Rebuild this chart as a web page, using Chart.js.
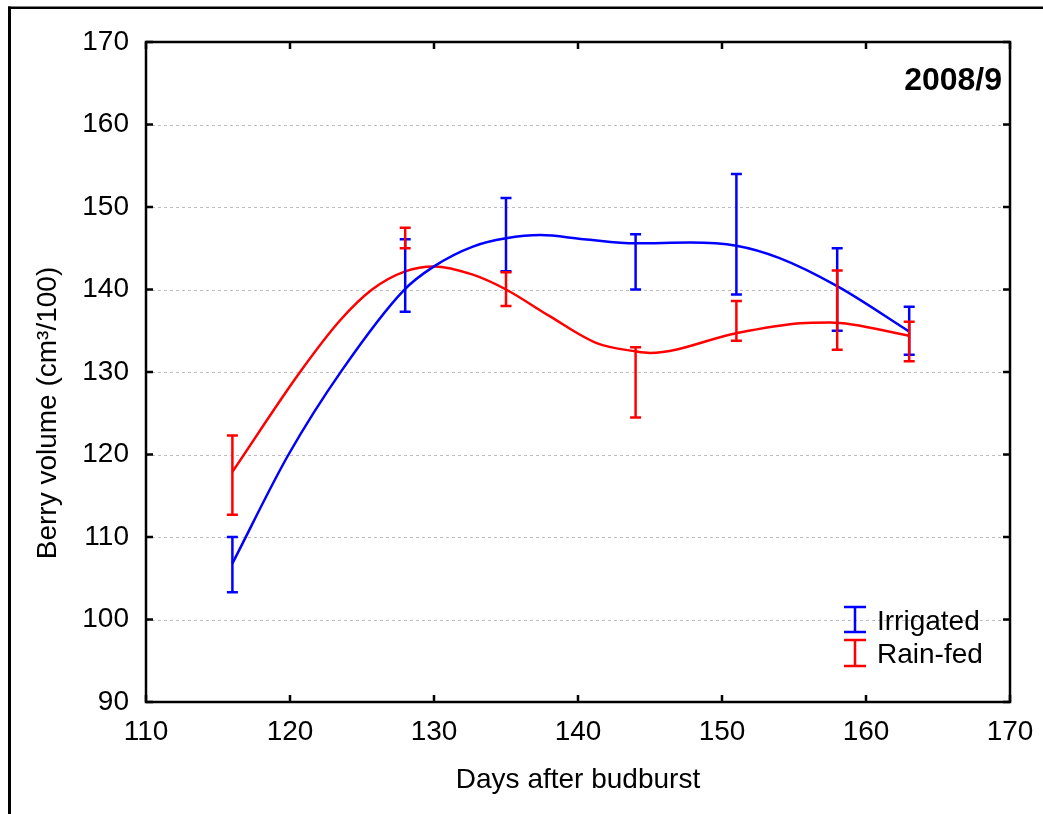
<!DOCTYPE html>
<html>
<head>
<meta charset="utf-8">
<script src="https://cdn.jsdelivr.net/npm/chart.js@4.4.0/dist/chart.umd.min.js"></script>
<style>
  html, body { margin: 0; padding: 0; background: #fff; }
  #wrap { position: relative; width: 1043px; height: 814px; }
</style>
</head>
<body>
<div id="wrap"><canvas id="c" width="1043" height="814"></canvas></div>
<script>
// Sampling days and berry volume means (cm3/100) with standard errors
const days = [116, 128, 135, 144, 151, 158, 163];
const irrigatedMean = [106.65, 141.7, 146.65, 143.35, 146.7, 140.0, 135.0];
const irrigatedErr  = [3.35, 4.4, 4.45, 3.35, 7.3, 5.0, 2.9];
const rainfedMean   = [117.5, 146.25, 140.05, 128.75, 136.2, 137.5, 133.7];
const rainfedErr    = [4.8, 1.25, 2.05, 4.25, 2.4, 4.8, 2.4];

// Smoothed trend curves through the season
const irrigatedCurveDays = [116, 119.9, 123.6, 127.9, 130, 132.7, 135, 137.4, 140.4, 144, 147.8, 151, 154, 158, 163];
const irrigatedCurve     = [106.8, 120, 130.2, 139.9, 142.8, 145.2, 146.2, 146.6, 146.1, 145.6, 145.7, 145.3, 143.8, 140.4, 134.9];
const rainfedCurveDays   = [116, 120.7, 123.5, 125.7, 128, 130, 132.7, 135, 138, 141.3, 144, 145, 151, 155.4, 157.5, 163];
const rainfedCurve       = [117.9, 130, 136.3, 140, 142.2, 142.8, 141.8, 140.0, 136.8, 133.5, 132.5, 132.3, 134.7, 135.9, 136.0, 134.4];

const xTicks = [110, 120, 130, 140, 150, 160, 170];
const yTicks = [90, 100, 110, 120, 130, 140, 150, 160, 170];

const seriesNames = ['Irrigated', 'Rain-fed'];
const seasonLabel = '2008/9';
const xTitle = 'Days after budburst';
const yTitle = 'Berry volume (cm\u00B3/100)';

const BLUE = '#0000ff';
const RED = '#ff0000';
const FONT = '"Liberation Sans", Arial, Helvetica, sans-serif';

const toPoints = (xs, ys) => xs.map((x, i) => ({ x: x, y: ys[i] }));

const decorPlugin = {
  id: 'decor',
  beforeDraw(chart) {
    const ctx = chart.ctx;
    ctx.save();
    ctx.fillStyle = '#fff';
    ctx.fillRect(0, 0, chart.width, chart.height);
    // outer figure frame (top and left edges)
    ctx.fillStyle = '#000';
    ctx.fillRect(8, 6.5, chart.width - 8, 2.5);
    ctx.fillRect(8, 6.5, 3, chart.height);
    ctx.restore();
  },
  beforeDatasetsDraw(chart) {
    const ctx = chart.ctx, a = chart.chartArea, y = chart.scales.y;
    ctx.save();
    ctx.strokeStyle = '#bdbdbd';
    ctx.lineWidth = 1;
    ctx.setLineDash([3, 3]);
    yTicks.forEach(v => {
      if (v === yTicks[0] || v === yTicks[yTicks.length - 1]) return;
      const py = Math.round(y.getPixelForValue(v)) + 0.5;
      ctx.beginPath();
      ctx.moveTo(a.left, py);
      ctx.lineTo(a.right, py);
      ctx.stroke();
    });
    ctx.restore();
  },
  afterDatasetsDraw(chart) {
    const ctx = chart.ctx, a = chart.chartArea;
    const xs = chart.scales.x, ys = chart.scales.y;
    ctx.save();

    // error bars (mean ± SE)
    const drawBars = (means, errs, color) => {
      ctx.strokeStyle = color;
      ctx.lineWidth = 2.5;
      days.forEach((d, i) => {
        const px = xs.getPixelForValue(d);
        const top = ys.getPixelForValue(means[i] + errs[i]);
        const bot = ys.getPixelForValue(means[i] - errs[i]);
        ctx.beginPath();
        ctx.moveTo(px, top); ctx.lineTo(px, bot);
        ctx.moveTo(px - 5.5, top); ctx.lineTo(px + 5.5, top);
        ctx.moveTo(px - 5.5, bot); ctx.lineTo(px + 5.5, bot);
        ctx.stroke();
      });
    };
    drawBars(irrigatedMean, irrigatedErr, BLUE);
    drawBars(rainfedMean, rainfedErr, RED);

    // plot frame
    ctx.strokeStyle = '#000';
    ctx.lineWidth = 2.5;
    ctx.strokeRect(a.left, a.top, a.right - a.left, a.bottom - a.top);

    // inward tick marks on all four sides
    const tl = 7;
    ctx.beginPath();
    xTicks.forEach(v => {
      const px = xs.getPixelForValue(v);
      ctx.moveTo(px, a.bottom); ctx.lineTo(px, a.bottom - tl);
      ctx.moveTo(px, a.top); ctx.lineTo(px, a.top + tl);
    });
    yTicks.forEach(v => {
      const py = ys.getPixelForValue(v);
      ctx.moveTo(a.left, py); ctx.lineTo(a.left + tl, py);
      ctx.moveTo(a.right, py); ctx.lineTo(a.right - tl, py);
    });
    ctx.stroke();

    // season label
    ctx.fillStyle = '#000';
    ctx.font = 'bold 32px ' + FONT;
    ctx.textAlign = 'right';
    ctx.textBaseline = 'alphabetic';
    ctx.fillText(seasonLabel, 1002, 90);

    // legend
    const legend = [
      { name: seriesNames[0], color: BLUE, top: 607, bot: 632, base: 630 },
      { name: seriesNames[1], color: RED, top: 640, bot: 666, base: 663 }
    ];
    legend.forEach(item => {
      ctx.strokeStyle = item.color;
      ctx.lineWidth = 2.5;
      ctx.beginPath();
      ctx.moveTo(855, item.top); ctx.lineTo(855, item.bot);
      ctx.moveTo(844, item.top); ctx.lineTo(866, item.top);
      ctx.moveTo(844, item.bot); ctx.lineTo(866, item.bot);
      ctx.stroke();
      ctx.fillStyle = '#000';
      ctx.font = '28px ' + FONT;
      ctx.textAlign = 'left';
      ctx.textBaseline = 'alphabetic';
      ctx.fillText(item.name, 877, item.base);
    });

    // y axis title
    ctx.translate(56, 413);
    ctx.rotate(-Math.PI / 2);
    ctx.fillStyle = '#000';
    ctx.font = '28px ' + FONT;
    ctx.textAlign = 'center';
    ctx.textBaseline = 'alphabetic';
    ctx.fillText(yTitle, 0, 0);

    ctx.restore();
  }
};

new Chart(document.getElementById('c').getContext('2d'), {
  type: 'line',
  data: {
    datasets: [
      {
        label: seriesNames[0],
        data: toPoints(irrigatedCurveDays, irrigatedCurve),
        borderColor: BLUE,
        borderWidth: 2.5,
        pointRadius: 0,
        fill: false,
        cubicInterpolationMode: 'monotone'
      },
      {
        label: seriesNames[1],
        data: toPoints(rainfedCurveDays, rainfedCurve),
        borderColor: RED,
        borderWidth: 2.5,
        pointRadius: 0,
        fill: false,
        cubicInterpolationMode: 'monotone'
      }
    ]
  },
  options: {
    responsive: false,
    animation: false,
    devicePixelRatio: 1,
    layout: { padding: { top: 42, right: 33, left: 0, bottom: 0 } },
    plugins: { legend: { display: false }, tooltip: { enabled: false } },
    scales: {
      x: {
        type: 'linear',
        min: xTicks[0],
        max: xTicks[xTicks.length - 1],
        afterBuildTicks: s => { s.ticks = xTicks.map(v => ({ value: v })); },
        afterFit: s => { s.height = 112; s.paddingLeft = 0; s.paddingRight = 0; },
        grid: { display: false, drawTicks: false },
        border: { display: false },
        ticks: {
          color: '#000',
          font: { family: FONT, size: 28 },
          padding: 13,
          maxRotation: 0,
          autoSkip: false
        },
        title: {
          display: true,
          text: xTitle,
          color: '#000',
          font: { family: FONT, size: 28 },
          padding: { top: 0, bottom: 17 }
        }
      },
      y: {
        type: 'linear',
        min: yTicks[0],
        max: yTicks[yTicks.length - 1],
        afterBuildTicks: s => { s.ticks = yTicks.map(v => ({ value: v })); },
        afterFit: s => { s.width = 146; s.paddingTop = 0; s.paddingBottom = 0; },
        grid: { display: false, drawTicks: false },
        border: { display: false },
        ticks: {
          color: '#000',
          font: { family: FONT, size: 28 },
          padding: 17,
          autoSkip: false
        }
      }
    }
  },
  plugins: [decorPlugin]
});
</script>
</body>
</html>
